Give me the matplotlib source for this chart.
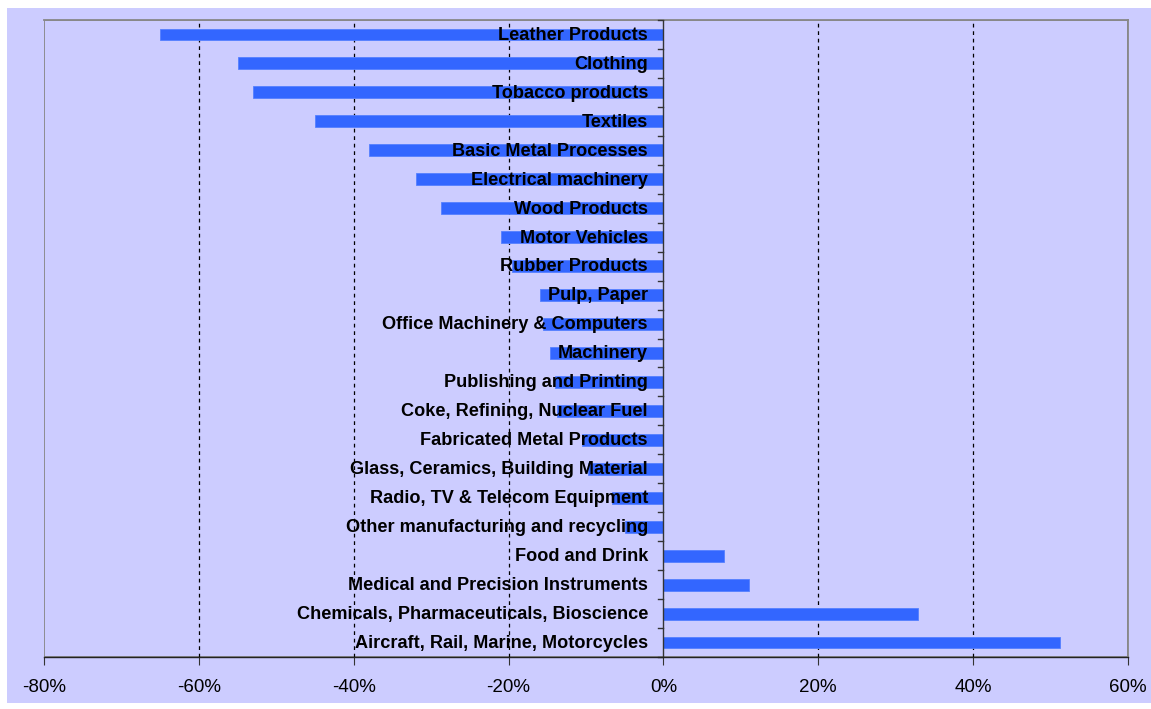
import matplotlib.pyplot as plt
from matplotlib.patches import Rectangle
from matplotlib.ticker import FuncFormatter
import numpy as np

# Sectors, top to bottom, with change (%)
sectors = [
    "Leather Products", "Clothing", "Tobacco products", "Textiles",
    "Basic Metal Processes", "Electrical machinery", "Wood Products",
    "Motor Vehicles", "Rubber Products", "Pulp, Paper",
    "Office Machinery & Computers", "Machinery", "Publishing and Printing",
    "Coke, Refining, Nuclear Fuel", "Fabricated Metal Products",
    "Glass, Ceramics, Building Material", "Radio, TV & Telecom Equipment",
    "Other manufacturing and recycling", "Food and Drink",
    "Medical and Precision Instruments",
    "Chemicals, Pharmaceuticals, Bioscience",
    "Aircraft, Rail, Marine, Motorcycles",
]
change = [
    -65.0, -55.0, -53.0, -45.0, -38.0, -32.0, -28.7, -21.0, -19.5, -16.0,
    -15.5, -14.7, -14.0, -13.7, -10.5, -9.8, -6.6, -4.9, 7.8, 11.0, 32.9, 51.2,
]
x_ticks = [-80, -60, -40, -20, 0, 20, 40, 60]
grid_at = [-60, -40, -20, 20, 40]

BG = "#CCCCFF"
BAR = "#3366FF"

fig = plt.figure(figsize=(11.51, 7.09), dpi=100, facecolor="white")
# lavender chart area with a thin white margin (top / left / bottom)
fig.patches.append(Rectangle((7 / 1151, 6 / 709), 1, 695 / 709,
                             transform=fig.transFigure, facecolor=BG,
                             edgecolor="none", zorder=-5))
ax = fig.add_axes([44 / 1151, 52 / 709, 1084 / 1151, 637 / 709])
ax.set_facecolor(BG)

y = np.arange(len(sectors))
ax.barh(y, change, height=0.41, color=BAR, edgecolor="#5580FF",
        linewidth=0.6, zorder=2)

for g in grid_at:
    ax.axvline(g, color="black", lw=0.9, ls=(0, (3, 3)), zorder=1)

ax.set_xlim(-80, 60)
ax.set_ylim(len(sectors) - 0.5, -0.5)

# grey plot-area frame, black bottom axis
for s in ["top", "right"]:
    ax.spines[s].set_color("#888888")
    ax.spines[s].set_linewidth(1.3)
ax.spines["left"].set_visible(False)
ax.add_patch(Rectangle((0, 0), 1, 1, transform=ax.transAxes, fill=False,
                       edgecolor="#888888", lw=1.3, zorder=0.5))
ax.spines["bottom"].set_color("#222222")
ax.spines["bottom"].set_linewidth(1.0)
ax.spines["bottom"].set_zorder(3)

# category axis sits at zero, labels drawn over the bars
ax.axvline(0, color="#333333", lw=1.0, zorder=3)
ax.set_yticks([])
for yi, name in zip(y, sectors):
    ax.text(-2.0, yi + 0.03, name, ha="right", va="center", fontsize=13.1,
            fontweight="bold", family="Liberation Sans", color="black",
            zorder=4)
for yi in np.arange(len(sectors) + 1) - 0.5:
    ax.plot([-0.75, 0], [yi, yi], color="#333333", lw=1.0, zorder=3,
            clip_on=False)

ax.set_xticks(x_ticks)
ax.xaxis.set_major_formatter(FuncFormatter(lambda v, p: f"{int(v)}%"))
ax.tick_params(axis="x", length=6, color="#333333", labelsize=13.5,
               pad=10)
for lab in ax.get_xticklabels():
    lab.set_family("Liberation Sans")

fig.savefig("out.png", dpi=100, facecolor="white")
